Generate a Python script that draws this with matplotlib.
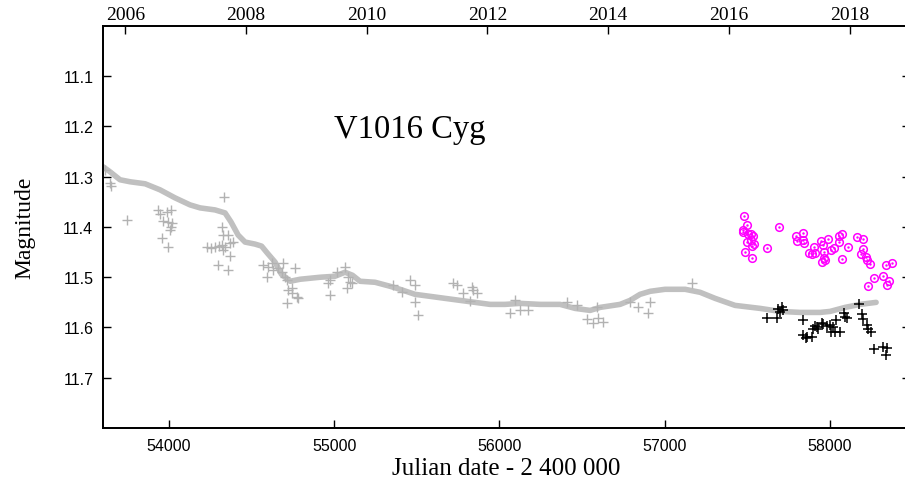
import numpy as np
import matplotlib as mpl; mpl.use("Agg")
import matplotlib.pyplot as plt

SERIF = ["Liberation Serif", "DejaVu Serif"]
SANS = ["Liberation Sans", "DejaVu Sans"]

# smoothed light curve (JD-2400000, mag)
trend_jd = [53600, 53642, 53703, 53764, 53855, 53945, 54036, 54127, 54188, 54278, 54339,
            54375, 54418, 54460, 54520, 54560, 54595, 54642, 54680, 54733, 54793, 54914,
            55005, 55065, 55110, 55156, 55247, 55338, 55398, 55489, 55580, 55670, 55761,
            55852, 55943, 56034, 56125, 56246, 56367, 56458, 56549, 56609, 56730, 56791,
            56851, 56912, 57002, 57124, 57215, 57305, 57426, 57578, 57699, 57820, 57941,
            58001, 58092, 58183, 58280]
trend_mag = [11.280, 11.290, 11.306, 11.310, 11.314, 11.326, 11.342, 11.356, 11.362, 11.366,
             11.372, 11.390, 11.416, 11.430, 11.434, 11.438, 11.452, 11.470, 11.494, 11.508,
             11.504, 11.500, 11.498, 11.490, 11.496, 11.508, 11.510, 11.518, 11.524, 11.534,
             11.538, 11.542, 11.546, 11.550, 11.554, 11.554, 11.552, 11.554, 11.554, 11.562,
             11.566, 11.560, 11.554, 11.546, 11.534, 11.528, 11.524, 11.524, 11.530, 11.542,
             11.556, 11.562, 11.568, 11.570, 11.570, 11.568, 11.560, 11.554, 11.550]

# archival photometry (grey crosses)
old_jd = [53613, 53643, 53649, 53746, 53933, 53946, 53988, 54012, 53964, 53994, 54018, 54012,
          54006, 53958, 53994, 54333, 54321, 54327, 54357, 54230, 54254, 54278, 54303, 54321,
          54339, 54327, 54297, 54357, 54369, 54387, 54369, 54569, 54599, 54623, 54593, 54630,
          54660, 54690, 54684, 54702, 54714, 54763, 54745, 54775, 54720, 54745, 54781, 54714,
          54975, 54975, 55017, 54962, 55065, 55077, 55084, 55096, 55108, 55356, 55410, 55459,
          55489, 55489, 55507, 55719, 55743, 55780, 55834, 55840, 55864, 55822, 56094, 56064,
          56125, 56173, 56409, 56470, 56530, 56567, 56597, 56627, 56591, 56791, 56839, 56912,
          56900, 57166]
old_mag = [11.286, 11.312, 11.318, 11.386, 11.366, 11.374, 11.370, 11.366, 11.388, 11.390,
           11.392, 11.400, 11.406, 11.422, 11.440, 11.340, 11.400, 11.416, 11.416, 11.440,
           11.442, 11.440, 11.438, 11.436, 11.440, 11.446, 11.476, 11.486, 11.432, 11.430,
           11.458, 11.476, 11.480, 11.472, 11.500, 11.486, 11.482, 11.472, 11.490, 11.500,
           11.506, 11.482, 11.522, 11.540, 11.526, 11.532, 11.542, 11.552, 11.506, 11.536,
           11.490, 11.512, 11.480, 11.522, 11.500, 11.510, 11.512, 11.516, 11.530, 11.506,
           11.516, 11.550, 11.576, 11.512, 11.516, 11.532, 11.520, 11.526, 11.532, 11.548,
           11.546, 11.572, 11.566, 11.566, 11.550, 11.556, 11.584, 11.592, 11.582, 11.590,
           11.560, 11.550, 11.560, 11.550, 11.572, 11.512]

# new photometry (black crosses)
new_jd = [57618, 57682, 57688, 57709, 57719, 57699, 57836, 57840, 57864, 57890, 57856, 57900,
          57920, 57930, 57910, 57961, 57951, 57981, 58001, 58007, 58021, 58031, 58062, 58038,
          58086, 58092, 58102, 58179, 58193, 58203, 58223, 58233, 58247, 58267, 58320, 58344,
          58338]
new_mag = [11.581, 11.581, 11.563, 11.559, 11.565, 11.569, 11.586, 11.615, 11.619, 11.619,
           11.621, 11.603, 11.599, 11.603, 11.598, 11.594, 11.591, 11.598, 11.596, 11.609,
           11.599, 11.609, 11.609, 11.585, 11.571, 11.579, 11.581, 11.553, 11.574, 11.583,
           11.596, 11.603, 11.609, 11.643, 11.638, 11.641, 11.654]

# second band (magenta circles)
mag_jd = [57481, 57497, 57476, 57473, 57507, 57521, 57537, 57497, 57521, 57543, 57531, 57487,
          57531, 57622, 57695, 57796, 57800, 57840, 57840, 57844, 57876, 57890, 57904, 57910,
          57947, 57957, 57965, 57965, 57951, 57971, 57987, 58005, 58027, 58058, 58072, 58056,
          58072, 58112, 58163, 58203, 58203, 58187, 58219, 58227, 58243, 58267, 58229, 58324,
          58340, 58378, 58360, 58348]
mag_mag = [11.378, 11.396, 11.409, 11.406, 11.413, 11.414, 11.418, 11.429, 11.426, 11.433,
           11.438, 11.449, 11.461, 11.441, 11.401, 11.418, 11.427, 11.411, 11.426, 11.431,
           11.451, 11.454, 11.439, 11.451, 11.427, 11.436, 11.449, 11.461, 11.469, 11.466,
           11.423, 11.446, 11.441, 11.418, 11.413, 11.429, 11.463, 11.439, 11.419, 11.423,
           11.443, 11.454, 11.459, 11.465, 11.474, 11.501, 11.518, 11.498, 11.476, 11.471,
           11.508, 11.515]

years = [2006, 2008, 2010, 2012, 2014, 2016, 2018]
year_jd = [53736, 54466, 55197, 55927, 56658, 57388, 58119]

fig = plt.figure(figsize=(9.05, 4.89), dpi=100)
ax = fig.add_axes([0.1138, 0.1227, 0.8917, 0.8221])   # right edge falls just off the canvas

ax.plot(trend_jd, trend_mag, color="#c0c0c0", lw=4.0, solid_capstyle="round", zorder=2)
ax.plot(old_jd, old_mag, ls="none", marker="+", ms=6.5, mew=1.0, color="#b2b2b2", zorder=3)
ax.plot(new_jd, new_mag, ls="none", marker="+", ms=6.5, mew=1.1, color="black", zorder=4)
ax.plot(mag_jd, mag_mag, ls="none", marker="o", ms=5.5, mew=1.1, mfc="none", mec="#ff00ff", zorder=4)
ax.plot(mag_jd, mag_mag, ls="none", marker=".", ms=1.5, color="#ff00ff", zorder=4)

ax.set_xlim(53600, 58485)
ax.set_ylim(11.8, 11.0)
ax.set_yticks([11.1, 11.2, 11.3, 11.4, 11.5, 11.6, 11.7])
ax.set_yticklabels(["11.1", "11.2", "11.3", "11.4", "11.5", "11.6", "11.7"])
ax.set_xticks([54000, 55000, 56000, 57000, 58000])
ax.tick_params(direction="in", length=6, width=1, labelsize=11.5, top=False, right=True,
               pad=7)
for lab in ax.get_xticklabels() + ax.get_yticklabels():
    lab.set_family(SANS)
for s in ax.spines.values():
    s.set_linewidth(1.3)

ax.text(55000, 11.205, "V1016 Cyg", family=SERIF, fontsize=23.5, va="center", ha="left")
ax.set_xlabel("Julian date - 2 400 000", family=SERIF, fontsize=18, labelpad=3)
ax.set_ylabel("Magnitude", family=SERIF, fontsize=17, labelpad=20)

top = ax.twiny()
top.set_xlim(ax.get_xlim())
top.set_xticks(year_jd)
top.set_xticklabels([str(y) for y in years], family=SERIF, fontsize=14)
top.tick_params(direction="in", length=6, width=1, pad=2)
for s in top.spines.values():
    s.set_linewidth(1.3)

fig.savefig("out.png", dpi=100)
